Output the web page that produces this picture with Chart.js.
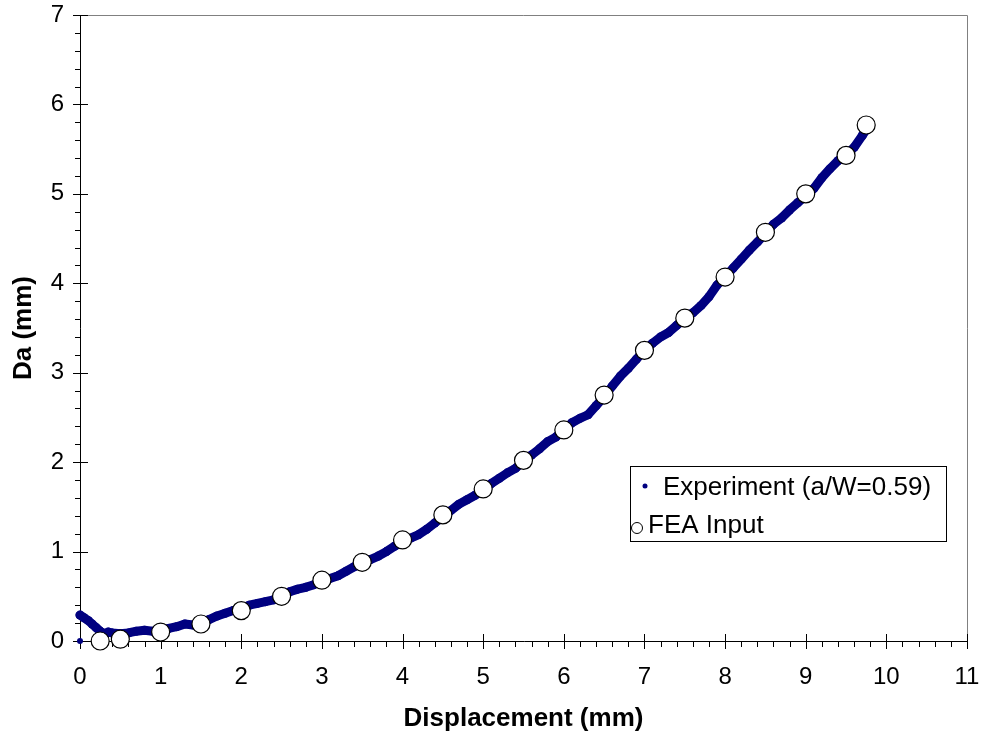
<!DOCTYPE html>
<html><head><meta charset="utf-8">
<script src="https://cdn.jsdelivr.net/npm/chart.js@4.4.1/dist/chart.umd.min.js"></script>
<style>html,body{margin:0;padding:0;background:#fff;}canvas{display:block;}</style>
</head><body>
<canvas id="c" width="984" height="736"></canvas>
<script>
// ---- data ----
const expX = [0.00, 0.00, 0.05, 0.10, 0.15, 0.20, 0.25, 0.30, 0.35, 0.40, 0.50, 0.60, 0.70, 0.80, 0.90,
  1.00, 1.10, 1.20, 1.30, 1.40, 1.50, 1.60, 1.70, 1.80, 1.90, 2.00, 2.10, 2.20, 2.30, 2.40,
  2.50, 2.60, 2.70, 2.80, 2.90, 3.00, 3.10, 3.20, 3.30, 3.40, 3.50, 3.60, 3.70, 3.80, 3.90,
  4.00, 4.10, 4.20, 4.30, 4.40, 4.50, 4.60, 4.70, 4.80, 4.90, 5.00, 5.10, 5.20, 5.30, 5.40,
  5.50, 5.60, 5.70, 5.80, 5.90, 6.00, 6.10, 6.20, 6.30, 6.40, 6.50, 6.60, 6.70, 6.80, 6.90,
  7.00, 7.10, 7.20, 7.30, 7.40, 7.50, 7.60, 7.70, 7.80, 7.90, 8.00, 8.10, 8.20, 8.30, 8.40,
  8.50, 8.60, 8.70, 8.80, 8.90, 9.00, 9.10, 9.20, 9.30, 9.40, 9.50, 9.60, 9.70, 9.75];
const expY = [0.00, 0.29, 0.26, 0.23, 0.19, 0.15, 0.11, 0.08, 0.10, 0.09, 0.08, 0.09, 0.11, 0.12, 0.11,
  0.12, 0.14, 0.16, 0.19, 0.18, 0.20, 0.24, 0.28, 0.31, 0.34, 0.36, 0.40, 0.42, 0.44, 0.46,
  0.50, 0.55, 0.58, 0.60, 0.63, 0.67, 0.70, 0.73, 0.78, 0.83, 0.87, 0.91, 0.95, 1.00, 1.06,
  1.11, 1.15, 1.19, 1.25, 1.32, 1.39, 1.46, 1.53, 1.58, 1.63, 1.69, 1.76, 1.82, 1.88, 1.93,
  2.01, 2.08, 2.15, 2.23, 2.28, 2.36, 2.44, 2.49, 2.53, 2.63, 2.73, 2.85, 2.96, 3.05, 3.15,
  3.25, 3.33, 3.40, 3.45, 3.53, 3.61, 3.67, 3.75, 3.85, 3.98, 4.07, 4.17, 4.27, 4.37, 4.46,
  4.56, 4.66, 4.73, 4.82, 4.90, 4.98, 5.06, 5.18, 5.28, 5.37, 5.44, 5.52, 5.65, 5.72];
const feaX = [0.25, 0.5, 1.0, 1.5, 2.0, 2.5, 3.0, 3.5, 4.0, 4.5, 5.0, 5.5, 6.0, 6.5, 7.0, 7.5, 8.0, 8.5, 9.0, 9.5, 9.75];
const feaY = [0.00, 0.02, 0.10, 0.19, 0.34, 0.50, 0.68, 0.88, 1.13, 1.41, 1.70, 2.02, 2.36, 2.75, 3.25, 3.61, 4.07, 4.57, 5.00, 5.43, 5.77];
const xRange = [0, 11];
const yRange = [0, 7];
const xTitle = 'Displacement (mm)';
const yTitle = 'Da (mm)';
const expLabel = 'Experiment (a/W=0.59)';
const feaLabel = 'FEA Input';

const FONT = '"Liberation Sans", Arial, sans-serif';
const NAVY = '#000080';

const axesPlugin = {
  id: 'axesPlugin',
  beforeDatasetsDraw(chart) {
    const {ctx, chartArea, scales} = chart;
    const {left, right, top, bottom} = chartArea;
    const xs = scales.x, ys = scales.y;
    ctx.save();
    ctx.lineWidth = 1;
    ctx.strokeStyle = '#808080';
    ctx.beginPath();
    ctx.moveTo(left, top + 0.5);
    ctx.lineTo(right + 0.5, top + 0.5);
    ctx.lineTo(right + 0.5, bottom);
    ctx.stroke();
    ctx.strokeStyle = '#000';
    ctx.beginPath();
    ctx.moveTo(left + 0.5, top);
    ctx.lineTo(left + 0.5, bottom + 0.5);
    ctx.lineTo(right + 1, bottom + 0.5);
    for (let i = 0; i <= (ys.max - ys.min) * 5; i++) {
      const v = ys.min + i * 0.2;
      const py = Math.round(ys.getPixelForValue(v)) + 0.5;
      const major = i % 5 === 0;
      ctx.moveTo(major ? left - 7 : left - 5, py);
      ctx.lineTo(major ? left + 8 : left, py);
    }
    for (let i = 0; i <= (xs.max - xs.min) * 5; i++) {
      const v = xs.min + i * 0.2;
      const px = Math.round(xs.getPixelForValue(v)) + 0.5;
      const major = i % 5 === 0;
      ctx.moveTo(px, major ? bottom - 7 : bottom);
      ctx.lineTo(px, major ? bottom + 8 : bottom + 6);
    }
    ctx.stroke();
    ctx.restore();
  }
};

const legendPlugin = {
  id: 'legendPlugin',
  afterDraw(chart) {
    const ctx = chart.ctx;
    const ds = chart.data.datasets;
    ctx.save();
    ctx.fillStyle = '#fff';
    ctx.fillRect(630.5, 466.5, 316, 75);
    ctx.strokeStyle = '#000';
    ctx.lineWidth = 1;
    ctx.strokeRect(630.5, 466.5, 316, 75);
    ctx.fillStyle = NAVY;
    ctx.beginPath(); ctx.arc(645, 486, 2.5, 0, Math.PI * 2); ctx.fill();
    ctx.fillStyle = '#000';
    ctx.font = '26px ' + FONT;
    ctx.textBaseline = 'alphabetic';
    ctx.textAlign = 'left';
    ctx.fillText(ds[0].label, 663, 495);
    ctx.beginPath(); ctx.arc(637, 528, 5.5, 0, Math.PI * 2);
    ctx.fillStyle = '#fff'; ctx.fill(); ctx.strokeStyle = '#000'; ctx.stroke();
    ctx.fillStyle = '#000';
    ctx.fillText(ds[1].label, 648, 533);
    ctx.restore();
  }
};

new Chart(document.getElementById('c').getContext('2d'), {
  type: 'scatter',
  data: {
    datasets: [
      {
        label: expLabel,
        data: expX.map((v, i) => ({x: v, y: expY[i]})),
        showLine: true,
        borderColor: NAVY,
        borderWidth: 9,
        borderJoinStyle: 'round',
        borderCapStyle: 'round',
        backgroundColor: NAVY,
        pointRadius: c => c.dataIndex === 0 ? 3 : 4.5,
        pointBorderWidth: 0,
        pointHoverRadius: 0,
        clip: false,
        order: 2,
        segment: {borderColor: c => c.p0DataIndex === 0 ? 'rgba(0,0,0,0)' : NAVY}
      },
      {
        label: feaLabel,
        data: feaX.map((v, i) => ({x: v, y: feaY[i]})),
        backgroundColor: '#fff',
        borderColor: '#000',
        pointRadius: 9,
        pointBorderWidth: 1.2,
        pointHoverRadius: 9,
        clip: false,
        order: 1
      }
    ]
  },
  options: {
    responsive: false,
    animation: false,
    devicePixelRatio: 1,
    layout: {padding: {left: 0, right: 17, top: 15, bottom: 0}},
    plugins: {legend: {display: false}, tooltip: {enabled: false}},
    scales: {
      x: {
        type: 'linear', min: xRange[0], max: xRange[1],
        afterFit(s) { s.height = 95; s.paddingLeft = 0; s.paddingRight = 0; },
        grid: {display: false, drawTicks: false},
        border: {display: false},
        ticks: {stepSize: 1, padding: 22, color: '#000', font: {family: FONT, size: 24}},
        title: {display: true, text: xTitle, color: '#000', font: {family: FONT, size: 26, weight: 'bold'}, padding: {top: 0, bottom: 2}}
      },
      y: {
        type: 'linear', min: yRange[0], max: yRange[1],
        afterFit(s) { s.width = 80; s.paddingTop = 0; s.paddingBottom = 0; },
        grid: {display: false, drawTicks: false},
        border: {display: false},
        ticks: {stepSize: 1, padding: 16, color: '#000', font: {family: FONT, size: 24}},
        title: {display: true, text: yTitle, color: '#000', font: {family: FONT, size: 26, weight: 'bold'}, padding: {top: 8, bottom: 0}}
      }
    }
  },
  plugins: [axesPlugin, legendPlugin]
});
</script>
</body></html>
